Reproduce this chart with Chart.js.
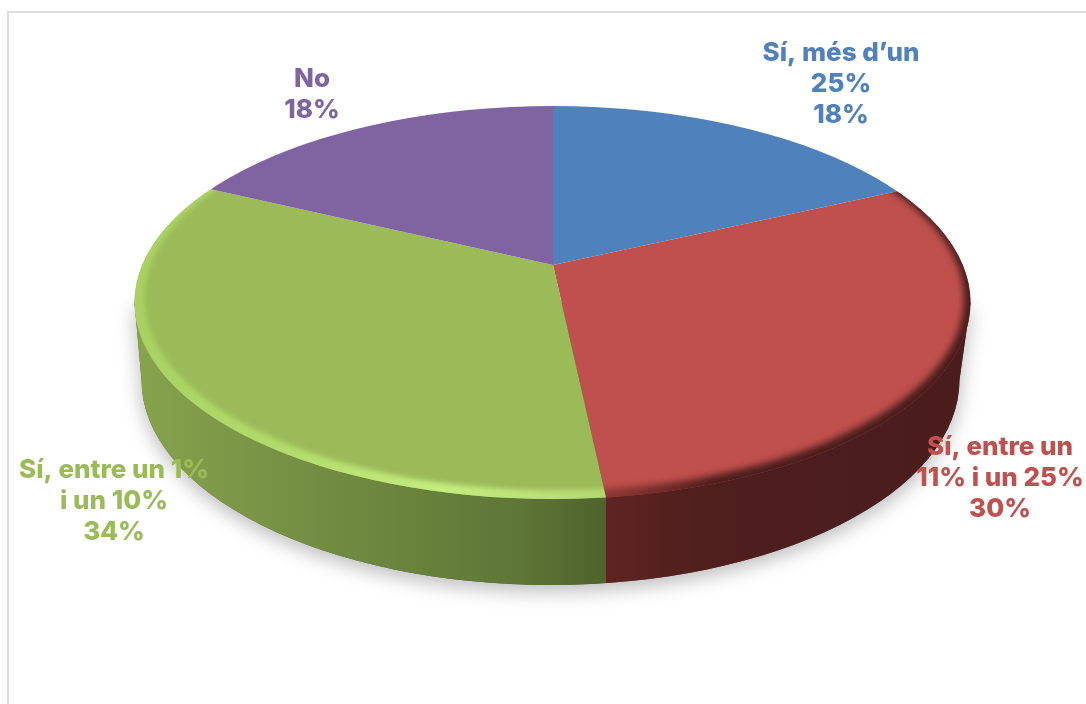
<!DOCTYPE html>
<html>
<head>
<meta charset="utf-8">
<style>
html,body{margin:0;padding:0;background:#fff;overflow:hidden}
#wrap{position:relative;width:1086px;height:704px}
#frame{position:absolute;left:7px;top:11px;width:1100px;height:720px;border:2px solid #dcdcdc;box-sizing:border-box}
canvas{position:absolute;left:0;top:0}
</style>
<script src="https://cdn.jsdelivr.net/npm/chart.js@4/dist/chart.umd.min.js"></script>
</head>
<body>
<div id="wrap"><div id="frame"></div><canvas id="c" width="1086" height="704"></canvas></div>
<script>
const categories = ["Sí, més d’un 25%", "Sí, entre un 11% i un 25%", "Sí, entre un 1% i un 10%", "No"];
const values = [18.2, 30.1, 33.7, 18.0];
const sliceColors = ["#4f81bd", "#c0504d", "#9bbb59", "#8064a2"];
const labelLines = [["Sí, més d’un", "25%"], ["Sí, entre un", "11% i un 25%"], ["Sí, entre un 1%", "i un 10%"], ["No"]];

const TILT = 0.47;
const TOP = {x: 552.5, y: 302.5, rx: 418, ry: 196.5};
const BOTTOM = {x: 550.5, y: 380, rx: 409, ry: 205};
const INNER_GREEN = {x: 552.5, y: 298, rx: 408, ry: 192};
const INNER_RED = {x: 550, y: 299, rx: 414, ry: 192};
const LABEL_POS = [[841, 53], [1000, 447], [114, 470], [312, 79]];
const LINE_H = 31.3;

function ell(ctx, e) { ctx.ellipse(e.x, e.y, e.rx, e.ry, 0, 0, Math.PI * 2); }

function rimX(a, angle) {
  // where a slice edge meets the top ellipse
  const dx = Math.cos(angle), dy = TILT * Math.sin(angle);
  const ox = (a.x - TOP.x) / TOP.rx, oy = (a.y - TOP.y) / TOP.ry;
  const ux = dx / TOP.rx, uy = dy / TOP.ry;
  const A = ux * ux + uy * uy, B = 2 * (ox * ux + oy * uy), C = ox * ox + oy * oy - 1;
  const t = (-B + Math.sqrt(B * B - 4 * A * C)) / (2 * A);
  return a.x + t * dx;
}

function wallPath(ctx) {
  ctx.beginPath();
  ctx.moveTo(TOP.x - TOP.rx, TOP.y);
  ctx.lineTo(BOTTOM.x - BOTTOM.rx, BOTTOM.y);
  ctx.ellipse(BOTTOM.x, BOTTOM.y, BOTTOM.rx, BOTTOM.ry, 0, Math.PI, 0, true);
  ctx.lineTo(TOP.x + TOP.rx, TOP.y);
  ctx.closePath();
}

function slicePath(ctx, a) {
  ctx.save();
  ctx.translate(a.x, a.y);
  ctx.scale(1, TILT);
  ctx.beginPath();
  ctx.moveTo(0, 0);
  ctx.arc(0, 0, a.outerRadius, a.startAngle, a.endAngle);
  ctx.closePath();
  ctx.restore();
}

function band(ctx, a, inner, fill, blur) {
  ctx.save();
  ctx.beginPath(); ell(ctx, TOP); ctx.clip();
  slicePath(ctx, a); ctx.clip();
  ctx.filter = 'blur(' + blur + 'px)';
  ctx.beginPath();
  ctx.rect(0, 0, 1086, 704);
  ell(ctx, inner);
  ctx.fillStyle = fill;
  ctx.fill('evenodd');
  ctx.restore();
}

function hGrad(ctx, x0, x1, stops) {
  const g = ctx.createLinearGradient(x0, 0, x1, 0);
  stops.forEach(s => g.addColorStop(s[0], s[1]));
  return g;
}

const pie3d = {
  id: 'pie3d',
  beforeDatasetsDraw(chart) {
    const ctx = chart.ctx;
    const arcs = chart.getDatasetMeta(0).data;
    const a0 = arcs[0];
    const splitX = rimX(a0, arcs[1].endAngle);

    // ground shadow
    ctx.save();
    ctx.shadowColor = 'rgba(0,0,0,0.28)';
    ctx.shadowBlur = 20;
    ctx.shadowOffsetY = 6;
    wallPath(ctx);
    ctx.fillStyle = '#555';
    ctx.fill();
    ctx.restore();

    // side wall
    ctx.save();
    wallPath(ctx); ctx.clip();
    ctx.fillStyle = hGrad(ctx, 135, splitX, [[0, '#87a34d'], [0.45, '#6f8a40'], [0.8, '#5f7737'], [1, '#4f632c']]);
    ctx.fillRect(0, 0, splitX, 704);
    ctx.fillStyle = hGrad(ctx, splitX, 970, [[0, '#5f2422'], [0.25, '#4f1f1e'], [1, '#4a1c1c']]);
    ctx.fillRect(splitX, 0, 1086 - splitX, 704);
    ctx.restore();

    // top face, drawn by the chart's own arc elements
    ctx.save();
    ctx.beginPath(); ell(ctx, TOP); ctx.clip();
    ctx.translate(a0.x, a0.y);
    ctx.scale(1, TILT);
    ctx.translate(-a0.x, -a0.y);
    arcs.forEach(a => a.draw(ctx));
    ctx.restore();

    // bevel
    band(ctx, arcs[2], INNER_GREEN, hGrad(ctx, 135, splitX, [[0, '#a8d062'], [0.35, '#b4dc6e'], [0.65, '#c4ec80'], [1, '#b4d872']]), 2.5);
    band(ctx, arcs[1], INNER_RED, hGrad(ctx, splitX, 970, [[0, 'rgba(100,36,34,0.55)'], [0.3, 'rgba(74,30,28,1)'], [1, 'rgba(74,28,28,1)']]), 3.5);

    // labels
    ctx.save();
    ctx.font = '800 26px Inter';
    ctx.textAlign = 'center';
    ctx.textBaseline = 'middle';
    categories.forEach((c, i) => {
      ctx.fillStyle = sliceColors[i];
      const lines = labelLines[i].concat(Math.round(values[i]) + '%');
      lines.forEach((t, j) => ctx.fillText(t, LABEL_POS[i][0], LABEL_POS[i][1] + j * LINE_H));
    });
    ctx.restore();
    return false;
  }
};

new Chart(document.getElementById('c'), {
  type: 'pie',
  data: {
    labels: categories,
    datasets: [{data: values, backgroundColor: sliceColors, borderWidth: 0, radius: 1000}]
  },
  options: {
    responsive: false,
    animation: false,
    events: [],
    layout: {padding: {left: 20, right: 0, top: 0, bottom: 174}},
    plugins: {legend: {display: false}, tooltip: {enabled: false}, title: {display: false}}
  },
  plugins: [pie3d]
});
</script>
</body>
</html>
